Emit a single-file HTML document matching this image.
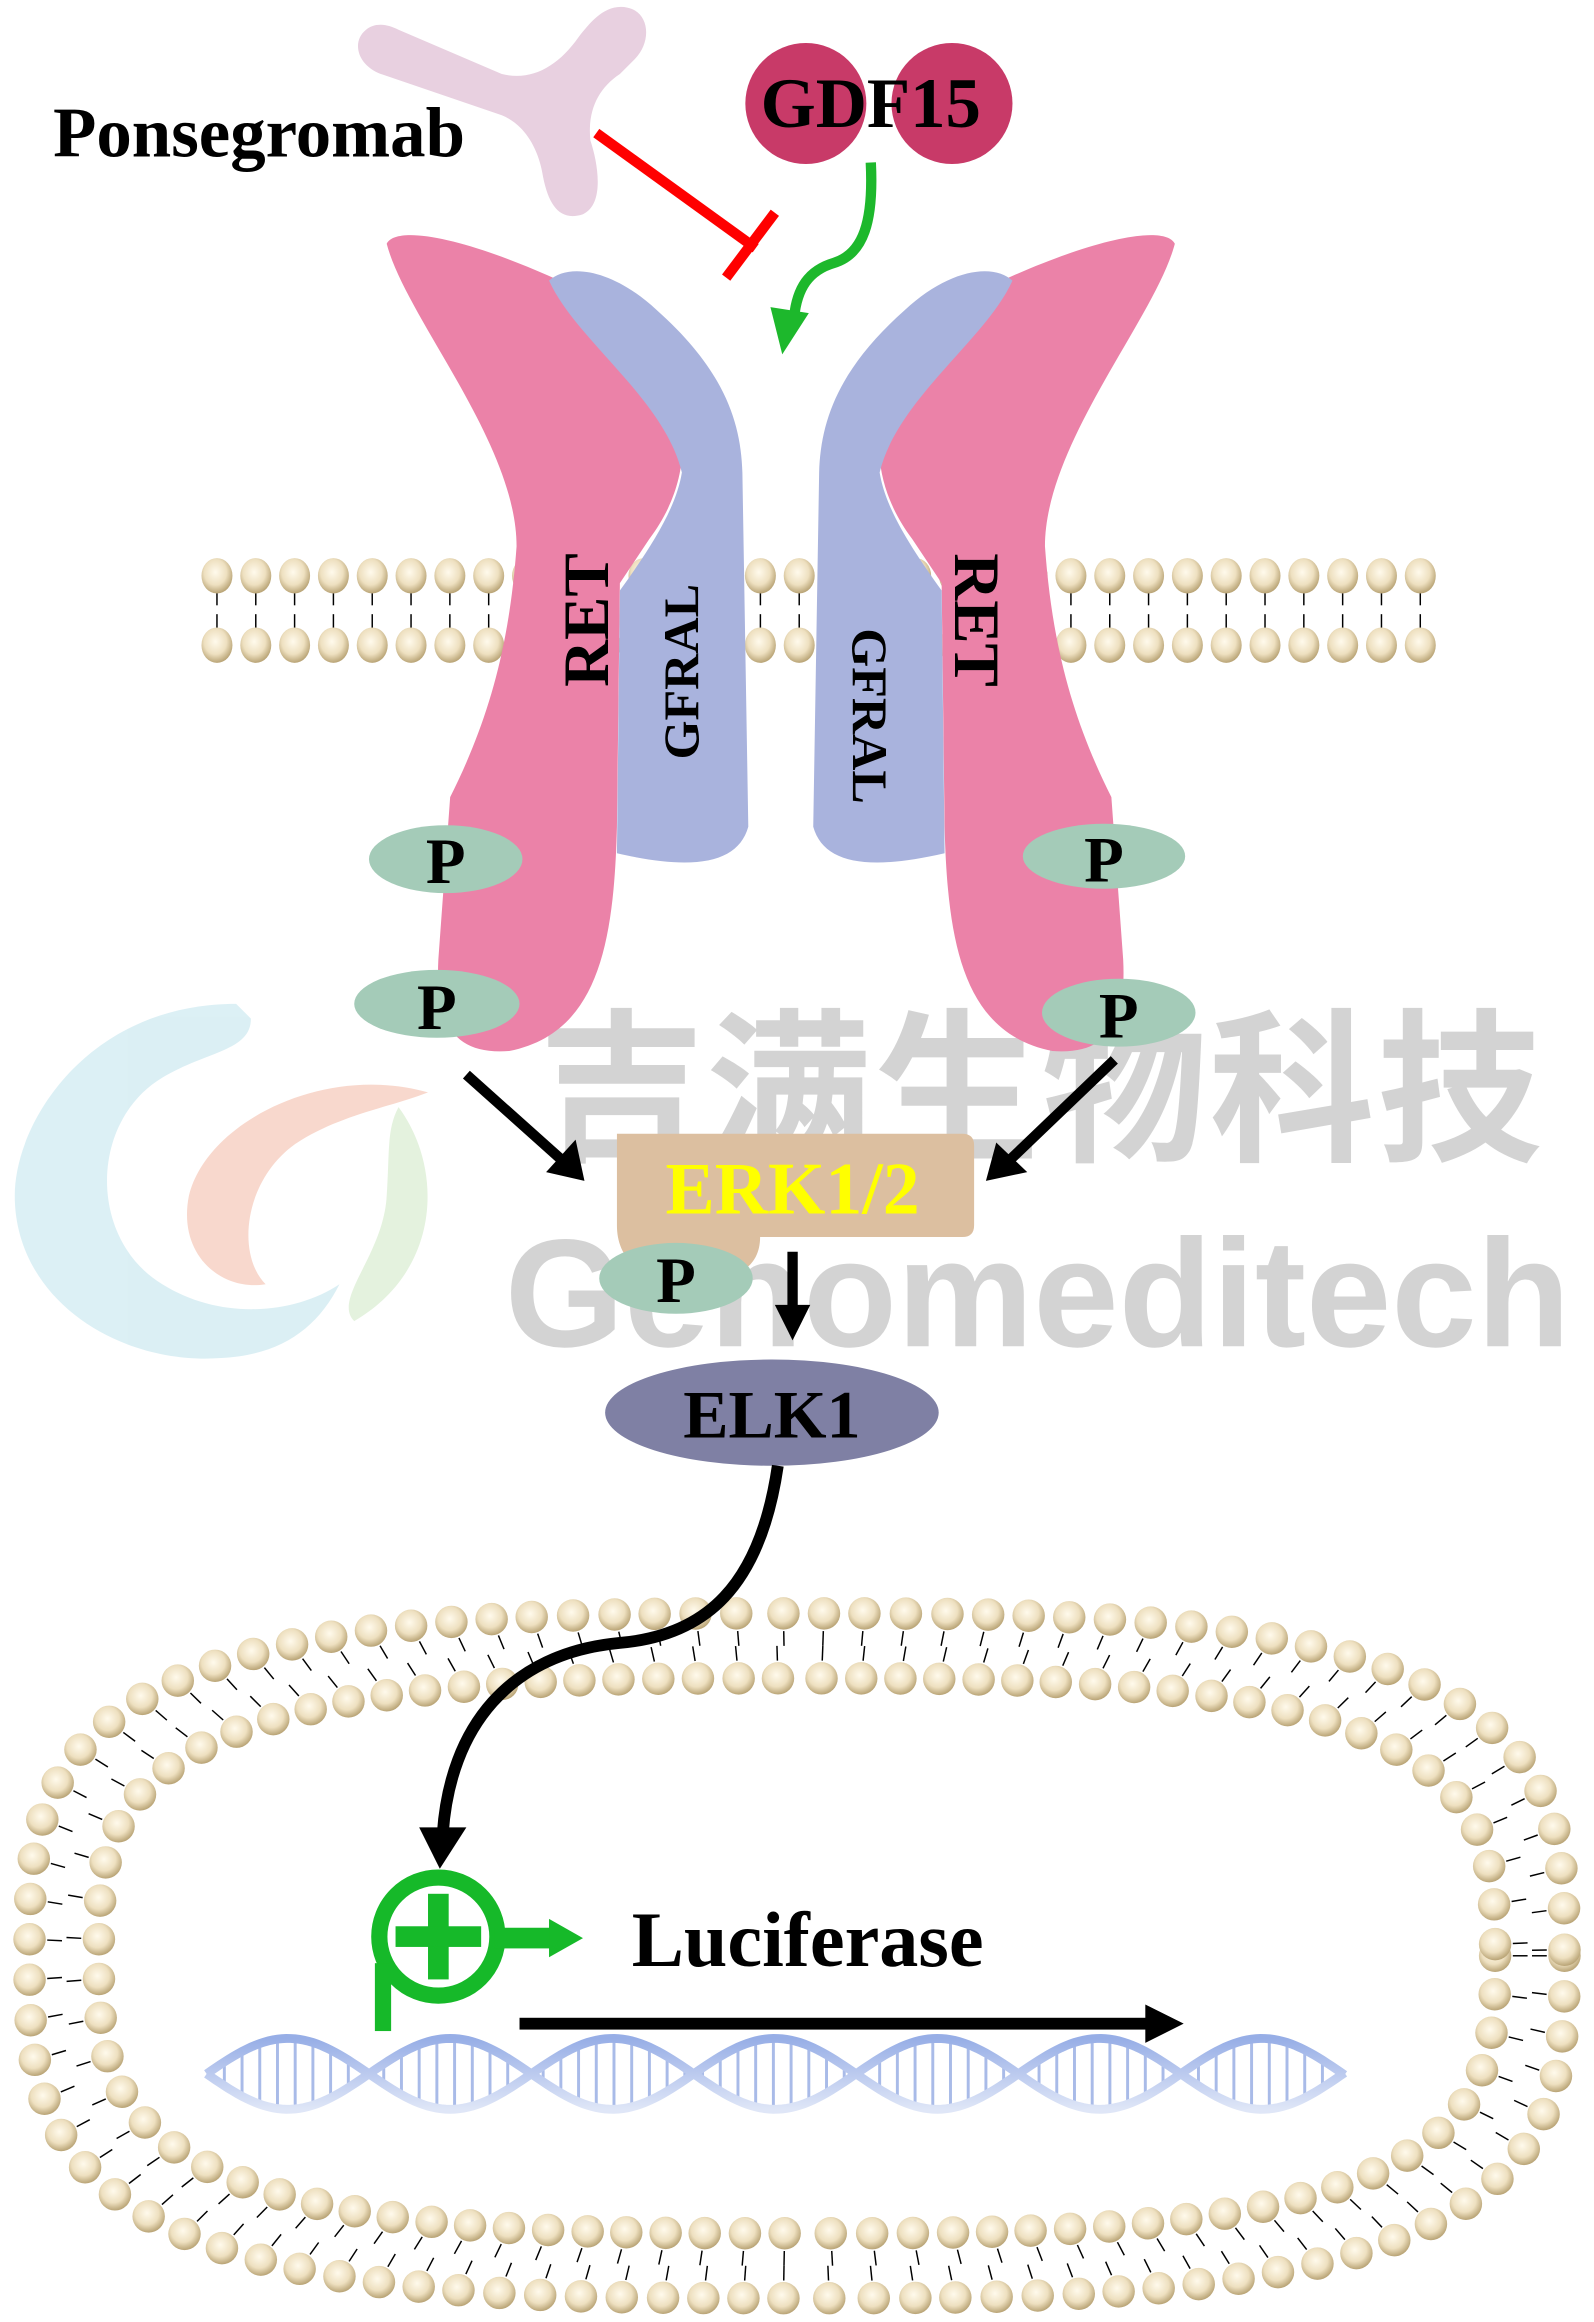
<!DOCTYPE html>
<html><head><meta charset="utf-8"><style>
html,body{margin:0;padding:0;background:#fff}
svg{display:block}
text{font-family:"Liberation Serif","Noto Serif CJK SC",serif;font-weight:bold}
</style></head><body>
<svg id="s" width="1594" height="2322" viewBox="0 0 1080 1573" xmlns="http://www.w3.org/2000/svg">
<defs>
<radialGradient id="hg" cx="45%" cy="40%" r="60%"><stop offset="0" stop-color="#fffaec"/><stop offset="0.6" stop-color="#eee0c0"/><stop offset="1" stop-color="#b9a476"/></radialGradient>
<linearGradient id="dg" x1="0" x2="0" y1="0" y2="1"><stop offset="0" stop-color="#97aee6"/><stop offset="1" stop-color="#dfe6f7"/></linearGradient>
</defs>
<g id="mem"></g>
<g id="nuc"></g>
<!-- watermark -->
<g opacity="0.55">
<path d="M160,680 C60,680 10,760 10,810 C10,880 80,925 150,920 C190,918 215,900 230,870 C200,890 150,895 110,870 C60,840 60,760 110,730 C140,712 170,712 170,690Z" fill="#bfe3ec"/>
<path d="M290,740 C220,720 140,760 128,810 C120,850 150,875 180,870 C160,850 165,800 200,775 C230,755 265,750 290,740Z" fill="#f3b9a5"/>
<path d="M270,750 C300,790 300,860 240,895 C225,880 260,850 262,810 C264,780 262,765 270,750Z" fill="#cfe8c4"/>
</g>
<text x="365" y="778" font-size="112" fill="#cfcfcf" opacity="0.9" style="font-family:'Noto Sans CJK SC',sans-serif;font-weight:bold" textLength="680">吉满生物科技</text>
<text x="342" y="912" font-size="104" fill="#cfcfcf" opacity="0.9" style="font-family:'Liberation Sans',sans-serif;font-weight:bold" textLength="722">Genomeditech</text>
<!-- antibody -->
<path d="M248,20 C238,28 242,44 258,50 L340,78 C355,84 365,100 368,120 C372,140 380,150 395,145 C410,138 405,110 400,95 C398,75 405,60 420,50 L430,40 C442,28 440,8 425,5 C410,2 400,15 392,25 C378,45 360,55 340,50 L270,20 C262,16 254,15 248,20Z" fill="#e8d0e0"/>
<g id="rec">
<path d="M262,165 C270,150 330,165 400,200 C440,222 458,250 462,290 C465,320 455,345 440,365 L420,395 L418,560 C416,640 405,700 345,712 C305,715 295,690 297,650 L305,540 C330,490 345,440 350,370 C350,300 275,215 262,165Z" fill="#eb82a8"/>
<path d="M372,190 C385,178 415,182 445,210 C490,250 502,285 503,320 L507,560 C500,585 470,590 418,578 L420,400 C440,372 458,345 462,320 C450,270 390,230 372,190Z" fill="#a9b3dd"/>
</g>
<use href="#rec" transform="translate(1058,0) scale(-1,1)"/>
<text transform="translate(412,420) rotate(-90)" font-size="44" text-anchor="middle">RET</text>
<text transform="translate(647,420) rotate(90)" font-size="44" text-anchor="middle">RET</text>
<text transform="translate(473,455) rotate(-90)" font-size="34" text-anchor="middle">GFRAL</text>
<text transform="translate(578,485) rotate(90)" font-size="34" text-anchor="middle">GFRAL</text>
<g fill="#a4cbb8">
<ellipse cx="302" cy="582" rx="52" ry="23"/><ellipse cx="296" cy="680" rx="56" ry="23"/>
<ellipse cx="748" cy="580" rx="55" ry="22"/><ellipse cx="758" cy="686" rx="52" ry="23"/>
</g>
<g font-size="44" text-anchor="middle">
<text x="302" y="598">P</text><text x="296" y="697">P</text><text x="748" y="597">P</text><text x="758" y="703">P</text>
</g>
<circle cx="546" cy="70" r="41" fill="#c83a68"/><circle cx="645" cy="70" r="41" fill="#c83a68"/>
<text x="590" y="86" font-size="48" text-anchor="middle">GDF15</text>
<text x="36" y="106" font-size="48">Ponsegromab</text>
<line x1="404" y1="90" x2="512" y2="168" stroke="#f00" stroke-width="7"/>
<line x1="525" y1="144" x2="492" y2="188" stroke="#f00" stroke-width="7"/>
<path d="M590,110 C592,150 585,172 565,178 C548,183 540,195 538,215" fill="none" stroke="#1db82c" stroke-width="7"/>
<polygon points="522,208 548,212 530,240" fill="#1db82c"/>
<g stroke="#000" stroke-width="7">
<line x1="316" y1="728" x2="382" y2="787"/><line x1="755" y1="718" x2="684" y2="786"/><line x1="537" y1="848" x2="537" y2="888"/>
</g>
<polygon points="396,800 370,794 390,772" fill="#000"/>
<polygon points="668,800 675,774 696,794" fill="#000"/>
<polygon points="525,884 549,884 537,908" fill="#000"/>
<path d="M418,768 L652,768 Q660,768 660,776 L660,830 Q660,838 652,838 L515,838 C515,858 500,868 470,868 C430,868 418,850 418,830 Z" fill="#dcbfa0"/>
<text x="537" y="822" font-size="50" fill="#ffff00" text-anchor="middle">ERK1/2</text>
<ellipse cx="458" cy="866" rx="52" ry="24" fill="#a4cbb8"/>
<text x="458" y="882" font-size="44" text-anchor="middle">P</text>
<ellipse cx="523" cy="957" rx="113" ry="36" fill="#7f80a4"/>
<text x="523" y="974" font-size="46" text-anchor="middle">ELK1</text>
<path d="M527,993 C515,1075 478,1108 420,1113 C345,1120 305,1170 300,1242" fill="none" stroke="#000" stroke-width="8"/>
<polygon points="284,1238 316,1238 298,1266" fill="#000"/>
<g id="dna"></g>
<circle cx="297" cy="1312" r="40" fill="none" stroke="#16b929" stroke-width="11"/>
<rect x="290" y="1283" width="14" height="58" fill="#16b929"/><rect x="268" y="1305" width="58" height="14" fill="#16b929"/>
<rect x="254" y="1330" width="11" height="46" fill="#16b929"/>
<rect x="335" y="1306" width="40" height="14" fill="#16b929"/>
<polygon points="372,1300 395,1313 372,1326" fill="#16b929"/>
<text x="428" y="1332" font-size="53">Luciferase</text>
<rect x="352" y="1367" width="430" height="8" fill="#000"/>
<polygon points="776,1358 802,1371 776,1384" fill="#000"/>
</svg>
<script>
var NS="http://www.w3.org/2000/svg";
function el(p,t,a){var e=document.createElementNS(NS,t);for(var k in a)e.setAttribute(k,a[k]);p.appendChild(e);return e;}
var mem=document.getElementById("mem");
for(var i=0;i<32;i++){var x=147+i*26.3;
 el(mem,"line",{x1:x,y1:400,x2:x,y2:410,stroke:"#000","stroke-width":1});
 el(mem,"line",{x1:x,y1:416,x2:x,y2:426,stroke:"#000","stroke-width":1});
 el(mem,"ellipse",{cx:x,cy:390,rx:10.5,ry:12,fill:"url(#hg)"});
 el(mem,"ellipse",{cx:x,cy:437,rx:10.5,ry:12,fill:"url(#hg)"});}
var nuc=document.getElementById("nuc");
function ring(rx,ry,cx,cy,n,sp,out){
 var pts=[],N=4000,prev=null,acc=sp;
 for(var j=0;j<=N;j++){var t=j/N*2*Math.PI,c=Math.cos(t),s=Math.sin(t);
  var x=cx+rx*Math.sign(c)*Math.pow(Math.abs(c),2/n),y=cy+ry*Math.sign(s)*Math.pow(Math.abs(s),2/n);
  if(prev){acc+=Math.hypot(x-prev[0],y-prev[1]);}
  if(acc>=sp){pts.push([x,y]);acc=0;}prev=[x,y];}
 pts.forEach(function(p){var dx=cx-p[0],dy=(cy-p[1])*2.2,l=Math.hypot(dx,dy);dx/=l;dy/=l;var d=out?1:-1;
  el(nuc,"line",{x1:p[0]+dx*d*12,y1:p[1]+dy*d*12,x2:p[0]+dx*d*22,y2:p[1]+dy*d*22,stroke:"#000","stroke-width":1});});
 return pts;}
var a=ring(520,232,540,1325,3.2,27,true),b=ring(473,188,540,1325,3.2,26,false);
a.concat(b).forEach(function(p){el(nuc,"circle",{cx:p[0],cy:p[1],r:11,fill:"url(#hg)"});});
var dna=document.getElementById("dna");
var d1="",d2="";for(var x=140;x<=912;x+=3){
 var y1=1405+24*Math.sin((x-140)/110*Math.PI),y2=1405-24*Math.sin((x-140)/110*Math.PI);
 d1+=(x==140?"M":"L")+x+","+y1;d2+=(x==140?"M":"L")+x+","+y2;
 if((x-140)%12==0)el(dna,"line",{x1:x,y1:y1,x2:x,y2:y2,stroke:"#a9bbe8","stroke-width":2});}
el(dna,"path",{d:d1,fill:"none",stroke:"url(#dg)","stroke-width":6});
el(dna,"path",{d:d2,fill:"none",stroke:"url(#dg)","stroke-width":6});
</script>
</body></html>
